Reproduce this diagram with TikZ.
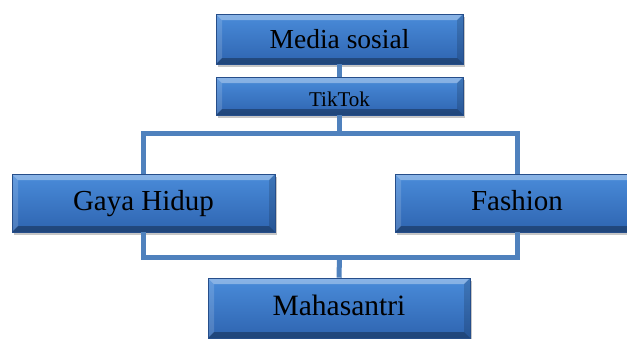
\documentclass[tikz,border=0pt]{standalone}
\usepackage{fontspec}
\setmainfont{Liberation Serif}
\usetikzlibrary{shadows}
\definecolor{boxtop}{RGB}{74,140,218}
\definecolor{boxbot}{RGB}{46,100,176}
\definecolor{boxedge}{RGB}{38,78,138}
\definecolor{linkblue}{RGB}{79,129,189}

\begin{document}
\begin{tikzpicture}[x=1pt, y=-1pt,
  box/.style={rectangle, draw=boxedge, line width=0.6pt, top color=boxtop, bottom color=boxbot,
    drop shadow={opacity=0.45, shadow xshift=2pt, shadow yshift=-3pt}, inner sep=0pt, text=black,
    text height=22pt, text depth=8pt,
    path picture={
      \fill[white, opacity=0.35] (path picture bounding box.north west) -- (path picture bounding box.north east)
        -- ([shift={(-6pt,-6pt)}]path picture bounding box.north east) -- ([shift={(6pt,-6pt)}]path picture bounding box.north west) -- cycle;
      \fill[white, opacity=0.15] (path picture bounding box.north west) -- ([shift={(6pt,-6pt)}]path picture bounding box.north west)
        -- ([shift={(6pt,6pt)}]path picture bounding box.south west) -- (path picture bounding box.south west) -- cycle;
      \fill[black, opacity=0.15] (path picture bounding box.north east) -- ([shift={(-6pt,-6pt)}]path picture bounding box.north east)
        -- ([shift={(-6pt,6pt)}]path picture bounding box.south east) -- (path picture bounding box.south east) -- cycle;
      \fill[black, opacity=0.3] (path picture bounding box.south west) -- (path picture bounding box.south east)
        -- ([shift={(-6pt,6pt)}]path picture bounding box.south east) -- ([shift={(6pt,6pt)}]path picture bounding box.south west) -- cycle;
    }},
  link/.style={draw=linkblue, line width=5pt}]
  \useasboundingbox (0,0) rectangle (627,338);
  \clip (0,0) rectangle (627,338);
  \node[box, minimum width=247pt, minimum height=50pt, text height=24pt, text depth=6pt, font=\fontsize{27.5}{32}\selectfont] (medsos) at (339.5,39) {Media sosial};
  \node[box, minimum width=247pt, minimum height=38pt, text height=26pt, text depth=6pt, font=\fontsize{21}{25}\selectfont] (tiktok) at (339.5,96) {TikTok};
  \node[box, minimum width=263pt, minimum height=58pt, font=\fontsize{29}{34}\selectfont] (gaya) at (143.5,203) {Gaya Hidup};
  \node[box, minimum width=244pt, minimum height=58pt, font=\fontsize{29}{34}\selectfont] (fashion) at (517,203) {Fashion};
  \node[box, minimum width=262pt, minimum height=60pt, font=\fontsize{29.5}{34}\selectfont] (maha) at (339,308) {Mahasantri};
  \coordinate (splittop) at (339.5,133);
  \coordinate (splitbot) at (339.5,257);
  \draw[link] (medsos.south) -- (tiktok.north);
  \draw[link] (tiktok.south) -- (splittop);
  \draw[link] (gaya.north) |- (splittop) -| (fashion.north);
  \draw[link] (gaya.south) |- (splitbot) -| (fashion.south);
  \draw[link] (splitbot) -- (maha.north);
\end{tikzpicture}
\end{document}
